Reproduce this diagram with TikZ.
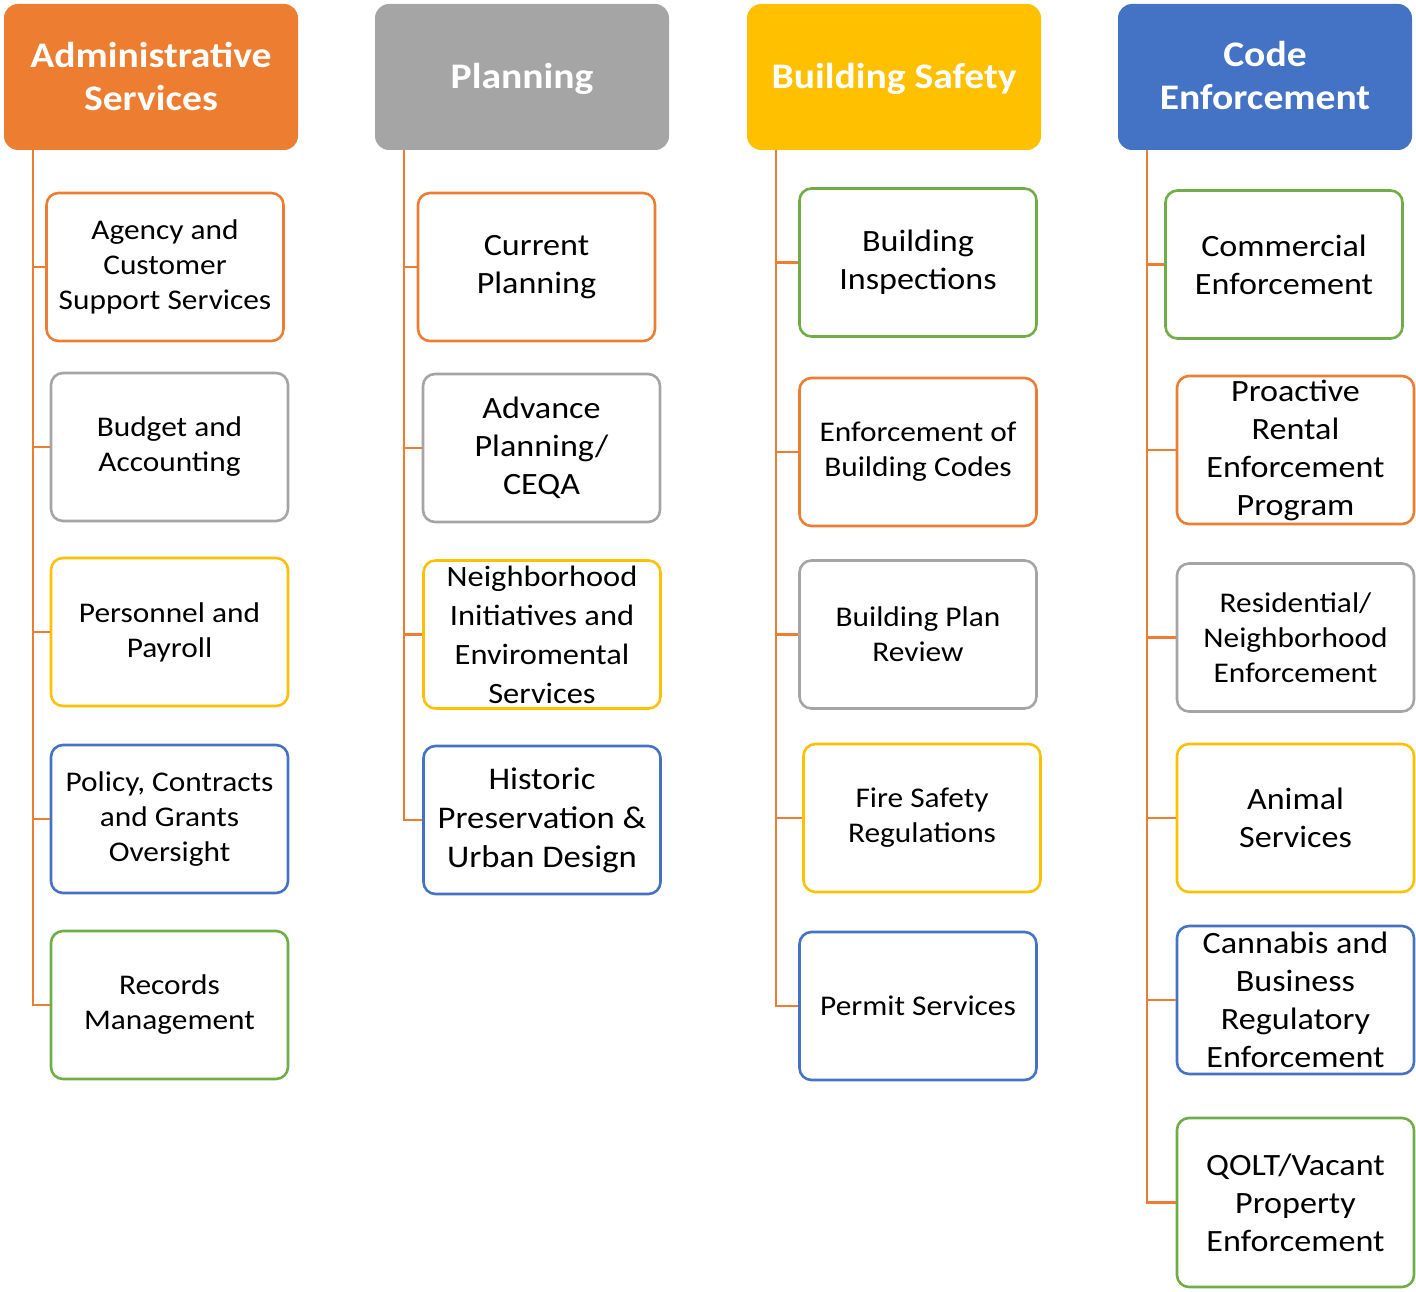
\documentclass[tikz,border=0pt]{standalone}
\usepackage{fontspec}
\setmainfont{Carlito}[FakeStretch=1.1]
\definecolor{corange}{HTML}{ED7D31}
\definecolor{cgray}{HTML}{A5A5A5}
\definecolor{cyellow}{HTML}{FFC000}
\definecolor{cblue}{HTML}{4472C4}
\definecolor{cgreen}{HTML}{70AD47}
\tikzset{
  hdr/.style={fill=#1, rounded corners=14pt, minimum width=294pt, minimum height=146pt, inner sep=0pt},
  hdrtxt/.style={text=white, font=\fontsize{36}{43}\selectfont\bfseries, align=center, inner sep=0pt},
  cbox/.style={draw=#1, line width=2.6pt, rounded corners=12pt, fill=white, minimum width=237pt, minimum height=148pt, inner sep=0pt},
  smalltxt/.style={font=\fontsize{28.5}{35}\selectfont, align=center, inner sep=0pt},
  bigtxt/.style={font=\fontsize{31}{38}\selectfont, align=center, inner sep=0pt},
  bigtxtb/.style={font=\fontsize{31.5}{39}\selectfont, align=center, inner sep=0pt},
  conn/.style={draw=corange, line width=2.8pt}
}
\begin{document}
\begin{tikzpicture}[x=1pt,y=-1pt]
\useasboundingbox (0,0) rectangle (1416,1292);
% headers
\node[hdr=corange] (h1) at (151,77) {};
\node[hdrtxt] (h1t) at (151,76) {Administrative\\Services};
\node[hdr=cgray] (h2) at (522,77) {};
\node[hdrtxt] (h2t) at (522,79) {Planning};
\node[hdr=cyellow] (h3) at (894,77) {};
\node[hdrtxt] (h3t) at (894,79) {Building Safety};
\node[hdr=cblue] (h4) at (1265,77) {};
\node[hdrtxt] (h4t) at (1265,76) {Code\\Enforcement};
% connector tops
\coordinate (t1) at (33,150);
\coordinate (t2) at (404,150);
\coordinate (t3) at (776,150);
\coordinate (t4) at (1147,150);
% Administrative
\node[cbox=corange] (a1) at (165,267) {};
\node[cbox=cgray] (a2) at (169.5,447) {};
\node[cbox=cyellow] (a3) at (169.5,632) {};
\node[cbox=cblue] (a4) at (169.5,819) {};
\node[cbox=cgreen] (a5) at (169.5,1005) {};
% Planning
\node[cbox=corange] (p1) at (536.5,267) {};
\node[cbox=cgray] (p2) at (541.5,448) {};
\node[cbox=cyellow] (p3) at (542,634.5) {};
\node[cbox=cblue] (p4) at (542,820) {};
% Building Safety
\node[cbox=cgreen] (b1) at (918,262.5) {};
\node[cbox=corange] (b2) at (918,452) {};
\node[cbox=cgray] (b3) at (918,634.5) {};
\node[cbox=cyellow] (b4) at (922,818) {};
\node[cbox=cblue] (b5) at (918,1006) {};
% Code Enforcement
\node[cbox=cgreen] (c1) at (1284,264.5) {};
\node[cbox=corange] (c2) at (1295.5,450) {};
\node[cbox=cgray] (c3) at (1295.5,637.5) {};
\node[cbox=cyellow] (c4) at (1295.5,818) {};
\node[cbox=cblue] (c5) at (1295.5,1000) {};
\node[cbox=cgreen, minimum height=169pt] (c6) at (1295.5,1202.5) {};
% connectors
\foreach \n in {a1,a2,a3,a4,a5} \draw[conn] (t1) |- (\n.west);
\foreach \n in {p1,p2,p3,p4} \draw[conn] (t2) |- (\n.west);
\foreach \n in {b1,b2,b3,b4,b5} \draw[conn] (t3) |- (\n.west);
\foreach \n in {c1,c2,c3,c4,c5,c6} \draw[conn] (t4) |- (\n.west);
% texts
\node[smalltxt] (a1t) at (a1.center) {Agency and\\Customer\\Support Services};
\node[smalltxt] (a2t) at (a2.center) {Budget and\\Accounting};
\node[smalltxt] (a3t) at (a3.center) {Personnel and\\Payroll};
\node[smalltxt] (a4t) at (a4.center) {Policy, Contracts\\and Grants\\Oversight};
\node[smalltxt] (a5t) at (a5.center) {Records\\Management};
\node[bigtxt] (p1t) at (p1.center) {Current\\Planning};
\node[bigtxt] (p2t) at (p2.center) {Advance\\Planning/\\CEQA};
\node[smalltxt, font=\fontsize{29.5}{39}\selectfont] (p3t) at (p3.center) {Neighborhood\\Initiatives and\\Enviromental\\Services};
\node[bigtxtb] (p4t) at (p4.center) {Historic\\Preservation \&\\Urban Design};
\node[bigtxt] (b1t) at (b1.center) {Building\\Inspections};
\node[smalltxt] (b2t) at (b2.center) {Enforcement of\\Building Codes};
\node[smalltxt] (b3t) at (b3.center) {Building Plan\\Review};
\node[smalltxt] (b4t) at (b4.center) {Fire Safety\\Regulations};
\node[smalltxt] (b5t) at (b5.center) {Permit Services};
\node[bigtxt] (c1t) at (c1.center) {Commercial\\Enforcement};
\node[bigtxt] (c2t) at (c2.center) {Proactive\\Rental\\Enforcement\\Program};
\node[smalltxt] (c3t) at (c3.center) {Residential/\\Neighborhood\\Enforcement};
\node[bigtxt] (c4t) at (c4.center) {Animal\\Services};
\node[bigtxt] (c5t) at (c5.center) {Cannabis and\\Business\\Regulatory\\Enforcement};
\node[bigtxt] (c6t) at (c6.center) {QOLT/Vacant\\Property\\Enforcement};
\end{tikzpicture}
\end{document}
